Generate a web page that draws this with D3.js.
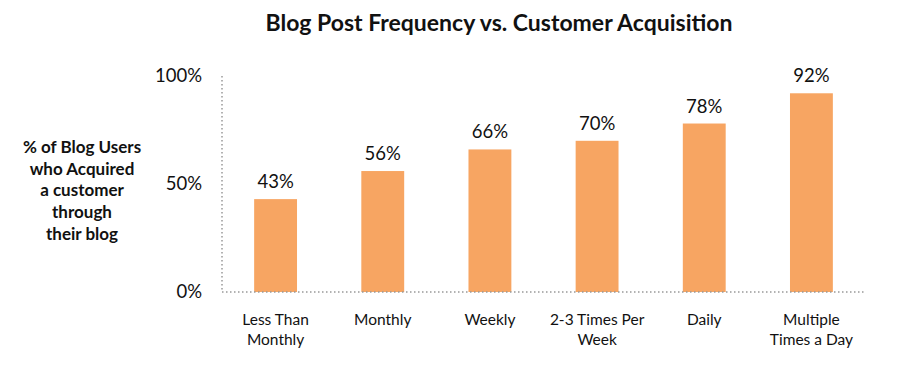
<!DOCTYPE html>
<html>
<head>
<meta charset="utf-8">
<script src="https://cdnjs.cloudflare.com/ajax/libs/d3/7.8.5/d3.min.js"></script>
<style>
  body { margin: 0; background: #fff; }
  text { font-family: Lato, "Open Sans", sans-serif; fill: #111; }
</style>
</head>
<body>
<div id="chart"></div>
<script>
// data
var categories = ["Less Than|Monthly", "Monthly", "Weekly", "2-3 Times Per|Week", "Daily", "Multiple|Times a Day"];
var values = [43, 56, 66, 70, 78, 92];
var yTicks = [0, 50, 100];
var yTitle = ["% of Blog Users", "who Acquired", "a customer", "through", "their blog"];

var W = 899, H = 378;
var margin = { top: 76, right: 34, bottom: 86, left: 222 },
    width = W - margin.left - margin.right,
    height = H - margin.top - margin.bottom;

var svg = d3.select("#chart")
    .append("svg")
    .attr("width", W)
    .attr("height", H);

// title
svg.append("text")
    .attr("x", 499)
    .attr("y", 31)
    .attr("text-anchor", "middle")
    .style("font-size", "23px")
    .style("font-weight", "bold")
    .text("Blog Post Frequency vs. Customer Acquisition");

var g = svg.append("g")
    .attr("transform", "translate(" + margin.left + "," + margin.top + ")");

var x = d3.scaleBand()
    .domain(categories)
    .range([0, width])
    .paddingInner(0.6)
    .paddingOuter(0.3);

var y = d3.scaleLinear()
    .domain([0, 100])
    .range([height, 0]);

// bars
g.selectAll("rect.bar")
    .data(values)
    .enter()
    .append("rect")
    .attr("class", "bar")
    .attr("x", function(d, i) { return x(categories[i]); })
    .attr("y", function(d) { return y(d); })
    .attr("width", x.bandwidth())
    .attr("height", function(d) { return height - y(d); })
    .style("fill", "#F7A562");

// value labels
g.selectAll("text.val")
    .data(values)
    .enter()
    .append("text")
    .attr("class", "val")
    .attr("x", function(d, i) { return x(categories[i]) + x.bandwidth() / 2; })
    .attr("y", function(d) { return y(d) - 11; })
    .attr("text-anchor", "middle")
    .style("font-size", "18.5px")
    .text(function(d) { return d + "%"; });

// dotted axes
g.append("line")
    .attr("x1", 0).attr("x2", 0)
    .attr("y1", 0).attr("y2", height)
    .attr("stroke", "#999")
    .attr("stroke-width", 1.5)
    .attr("stroke-dasharray", "1.5,2.5");
g.append("line")
    .attr("x1", 0).attr("x2", width)
    .attr("y1", height).attr("y2", height)
    .attr("stroke", "#999")
    .attr("stroke-width", 1.5)
    .attr("stroke-dasharray", "1.5,2.5");

// y tick labels
g.selectAll("text.ytick")
    .data(yTicks)
    .enter()
    .append("text")
    .attr("class", "ytick")
    .attr("x", -20)
    .attr("y", function(d) { return y(d); })
    .attr("dy", "0.35em")
    .attr("text-anchor", "end")
    .style("font-size", "18.5px")
    .text(function(d) { return d + "%"; });

// x category labels
var cat = g.selectAll("text.cat")
    .data(categories)
    .enter()
    .append("text")
    .attr("class", "cat")
    .attr("text-anchor", "middle")
    .attr("transform", function(d) {
        return "translate(" + (x(d) + x.bandwidth() / 2) + "," + (height + 33) + ")";
    })
    .style("font-size", "15.5px");
cat.selectAll("tspan")
    .data(function(d) { return d.split("|"); })
    .enter()
    .append("tspan")
    .attr("x", 0)
    .attr("dy", function(d, i) { return i === 0 ? 0 : 20; })
    .text(function(d) { return d; });

// y axis title
var yt = svg.append("text")
    .attr("text-anchor", "middle")
    .attr("transform", "translate(82,153)")
    .style("font-size", "17px")
    .style("font-weight", "bold");
yt.selectAll("tspan")
    .data(yTitle)
    .enter()
    .append("tspan")
    .attr("x", 0)
    .attr("dy", function(d, i) { return i === 0 ? 0 : 21.7; })
    .text(function(d) { return d; });
</script>
</body>
</html>
